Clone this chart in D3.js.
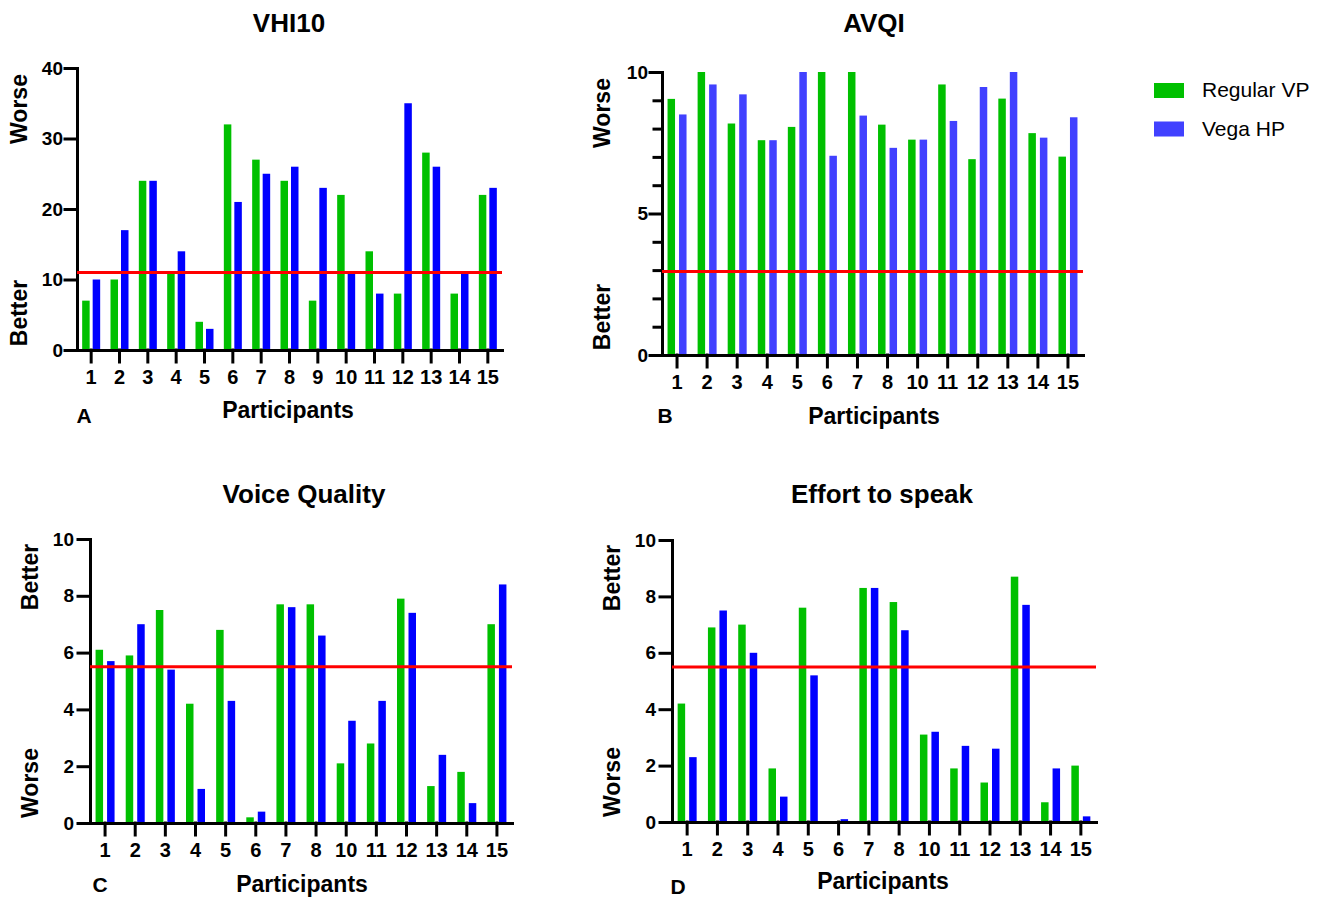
<!DOCTYPE html>
<html>
<head>
<meta charset="utf-8">
<script src="https://cdn.jsdelivr.net/npm/d3@7"></script>
<style>
  body { margin: 0; background: #fff; }
  svg text { font-family: "Liberation Sans", Arial, sans-serif; fill: #000; }
</style>
</head>
<body>
<svg id="chart" width="1329" height="899"></svg>
<script>
// participants (panel A has all 15, the others skip 9)
var participantsA = ["1","2","3","4","5","6","7","8","9","10","11","12","13","14","15"];
var participantsBCD = ["1","2","3","4","5","6","7","8","10","11","12","13","14","15"];

// VHI10
var vhiRegular = [7, 10, 24, 11, 4, 32, 27, 24, 7, 22, 14, 8, 28, 8, 22];
var vhiVega    = [10, 17, 24, 14, 3, 21, 25, 26, 23, 11, 8, 35, 26, 11, 23];
var vhiCutoff = 11;

// AVQI
var avqiRegular = [9.05, 10, 8.18, 7.59, 8.06, 10, 10, 8.14, 7.61, 9.56, 6.92, 9.06, 7.84, 7.01];
var avqiVega    = [8.5, 9.56, 9.21, 7.59, 10, 7.04, 8.46, 7.32, 7.61, 8.27, 9.47, 10, 7.68, 8.4];
var avqiCutoff = 2.95;

// Voice Quality
var vqRegular = [6.1, 5.9, 7.5, 4.2, 6.8, 0.2, 7.7, 7.7, 2.1, 2.8, 7.9, 1.3, 1.8, 7.0];
var vqVega    = [5.7, 7.0, 5.4, 1.2, 4.3, 0.4, 7.6, 6.6, 3.6, 4.3, 7.4, 2.4, 0.7, 8.4];
var vqCutoff = 5.5;

// Effort to speak
var effRegular = [4.2, 6.9, 7.0, 1.9, 7.6, 0, 8.3, 7.8, 3.1, 1.9, 1.4, 8.7, 0.7, 2.0];
var effVega    = [2.3, 7.5, 6.0, 0.9, 5.2, 0.1, 8.3, 6.8, 3.2, 2.7, 2.6, 7.7, 1.9, 0.2];
var effCutoff = 5.5;

var seriesNames = ["Regular VP", "Vega HP"];

var green = "#00c000";
var blue = "#0000ff";
var lightBlue = "#4141ff";

var svg = d3.select("#chart");

function drawPanel(p) {
  var g = svg.append("g");

  var x = d3.scaleBand().domain(p.cats).range([p.x0, p.x1]);
  var y = d3.scaleLinear().domain([0, p.max]).range([p.yBottom, p.yTop]);

  var rows = p.cats.map(function(c, i) { return {cat: c, a: p.a[i], b: p.b[i]}; });
  var off = p.gap / 2 + p.barW / 2;

  g.selectAll("rect.ga").data(rows).enter().append("rect")
    .attr("x", function(d) { return x(d.cat) + x.bandwidth() / 2 - off - p.barW / 2; })
    .attr("y", function(d) { return y(d.a); })
    .attr("width", p.barW)
    .attr("height", function(d) { return y(0) - y(d.a); })
    .attr("fill", green);

  g.selectAll("rect.gb").data(rows).enter().append("rect")
    .attr("x", function(d) { return x(d.cat) + x.bandwidth() / 2 + off - p.barW / 2; })
    .attr("y", function(d) { return y(d.b); })
    .attr("width", p.barW)
    .attr("height", function(d) { return y(0) - y(d.b); })
    .attr("fill", p.blue);

  // axes
  var yAxis = g.append("g")
    .attr("class", "yaxis")
    .attr("transform", "translate(" + p.x0 + ",0)")
    .call(d3.axisLeft(y).tickValues(p.ticks).tickSize(12).tickSizeOuter(0).tickPadding(p.yPad));
  if (p.minor) {
    g.append("g")
      .attr("transform", "translate(" + p.x0 + ",0)")
      .call(d3.axisLeft(y).tickValues(p.minor).tickSize(8).tickFormat("").tickSizeOuter(0))
      .select(".domain").remove();
  }
  var xAxis = g.append("g")
    .attr("class", "xaxis")
    .attr("transform", "translate(0," + p.yBottom + ")")
    .call(d3.axisBottom(x).tickSize(12).tickSizeOuter(0).tickPadding(8));

  g.selectAll(".tick line, .domain")
    .attr("stroke", "#000").attr("stroke-width", 3).attr("stroke-linecap", "square");
  yAxis.attr("font-size", null).selectAll(".tick text")
    .style("font-size", "19px").style("font-weight", "bold");
  xAxis.attr("font-size", null).selectAll(".tick text")
    .style("font-size", "20px").style("font-weight", "bold");

  // cutoff line
  g.append("line")
    .attr("x1", p.x0).attr("x2", p.x1)
    .attr("y1", y(p.cutoff)).attr("y2", y(p.cutoff))
    .attr("stroke", "#ff0000").attr("stroke-width", 3);

  // texts
  g.append("text").attr("x", p.titleX).attr("y", p.titleY)
    .attr("text-anchor", "middle").style("font-size", "26px").style("font-weight", "bold")
    .text(p.title);
  g.append("text").attr("x", p.partX).attr("y", p.partY)
    .attr("text-anchor", "middle").style("font-size", "23px").style("font-weight", "bold")
    .text("Participants");
  g.append("text").attr("x", p.letterX).attr("y", p.letterY)
    .attr("text-anchor", "middle").style("font-size", "21px").style("font-weight", "bold")
    .text(p.letter);
  p.side.forEach(function(s) {
    g.append("text")
      .attr("transform", "translate(" + s.x + "," + s.y + ") rotate(-90)")
      .attr("text-anchor", "middle").attr("dy", "0.36em")
      .style("font-size", "23px").style("font-weight", "bold")
      .text(s.label);
  });
}

drawPanel({
  cats: participantsA, a: vhiRegular, b: vhiVega, cutoff: vhiCutoff, blue: blue,
  max: 40, ticks: [0, 10, 20, 30, 40], yPad: 2,
  x0: 77, x1: 502, yTop: 68, yBottom: 350, barW: 7.5, gap: 3,
  title: "VHI10", titleX: 289, titleY: 32,
  partX: 288, partY: 418, letter: "A", letterX: 84, letterY: 423,
  side: [{label: "Worse", x: 19, y: 109}, {label: "Better", x: 19, y: 313}]
});

drawPanel({
  cats: participantsBCD, a: avqiRegular, b: avqiVega, cutoff: avqiCutoff, blue: lightBlue,
  max: 10, ticks: [0, 5, 10], minor: [1, 2, 3, 4, 6, 7, 8, 9], yPad: 2,
  x0: 662, x1: 1083, yTop: 72, yBottom: 355, barW: 7.5, gap: 4,
  title: "AVQI", titleX: 874, titleY: 32,
  partX: 874, partY: 424, letter: "B", letterX: 665, letterY: 423,
  side: [{label: "Worse", x: 602, y: 113}, {label: "Better", x: 602, y: 317}]
});

drawPanel({
  cats: participantsBCD, a: vqRegular, b: vqVega, cutoff: vqCutoff, blue: blue,
  max: 10, ticks: [0, 2, 4, 6, 8, 10], yPad: 4,
  x0: 90, x1: 512, yTop: 539, yBottom: 823, barW: 7.5, gap: 4,
  title: "Voice Quality", titleX: 304, titleY: 503,
  partX: 302, partY: 892, letter: "C", letterX: 100, letterY: 892,
  side: [{label: "Better", x: 30, y: 577}, {label: "Worse", x: 30, y: 783}]
});

drawPanel({
  cats: participantsBCD, a: effRegular, b: effVega, cutoff: effCutoff, blue: blue,
  max: 10, ticks: [0, 2, 4, 6, 8, 10], yPad: 4,
  x0: 672, x1: 1096, yTop: 540, yBottom: 822, barW: 7.5, gap: 4,
  title: "Effort to speak", titleX: 882, titleY: 503,
  partX: 883, partY: 889, letter: "D", letterX: 678, letterY: 894,
  side: [{label: "Better", x: 612, y: 578}, {label: "Worse", x: 612, y: 782}]
});

// legend
var legend = svg.append("g").selectAll("g")
  .data(seriesNames).enter().append("g")
  .attr("transform", function(d, i) { return "translate(1154," + (83 + i * 38.5) + ")"; });
legend.append("rect")
  .attr("width", 30).attr("height", 15)
  .attr("fill", function(d, i) { return i == 0 ? green : lightBlue; });
legend.append("text")
  .attr("x", 48).attr("y", 14)
  .style("font-size", "21px")
  .text(function(d) { return d; });
</script>
</body>
</html>
